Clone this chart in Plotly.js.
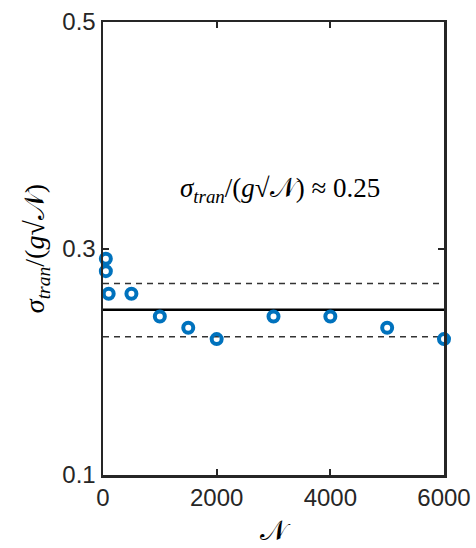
<!DOCTYPE html>
<html>
<head>
<meta charset="utf-8">
<script src="https://cdn.plot.ly/plotly-3.0.1.min.js"></script>
<style>html,body{margin:0;padding:0;background:#fff;}#chart{width:476px;height:548px;}</style>
</head>
<body>
<div id="chart"></div>
<script>
const nValues = [50, 50, 100, 500, 1000, 1500, 2000, 3000, 4000, 5000, 6000];
const sigmaRatio = [0.291, 0.280, 0.260, 0.260, 0.240, 0.230, 0.220, 0.240, 0.240, 0.230, 0.220];
const meanLevel = 0.246;
const upperLevel = 0.269;
const lowerLevel = 0.222;
const xTicks = [0, 2000, 4000, 6000];
const yTicks = [0.1, 0.3, 0.5];
const xRange = [0, 6000];
const yRange = [0.1, 0.5];

const axisColor = '#262626';
const tickFont = {family: 'Liberation Sans, Arial, sans-serif', size: 24, color: axisColor};
const mathFamily = 'Liberation Serif, Times New Roman, serif';

const traces = [
  {x: xRange, y: [upperLevel, upperLevel], mode: 'lines', line: {color: '#333', width: 1.5, dash: '6px,5px'}, hoverinfo: 'skip', showlegend: false},
  {x: xRange, y: [lowerLevel, lowerLevel], mode: 'lines', line: {color: '#333', width: 1.5, dash: '6px,5px'}, hoverinfo: 'skip', showlegend: false},
  {x: xRange, y: [meanLevel, meanLevel], mode: 'lines', line: {color: '#000', width: 2.5}, hoverinfo: 'skip', showlegend: false},
  {x: nValues, y: sigmaRatio, mode: 'markers', cliponaxis: false,
   marker: {symbol: 'circle-open', size: 10, color: '#0072BD', line: {color: '#0072BD', width: 4}}, showlegend: false}
];

const layout = {
  width: 476, height: 548,
  margin: {l: 103, r: 32, t: 22, b: 73},
  paper_bgcolor: '#fff', plot_bgcolor: '#fff',
  xaxis: {
    range: xRange, tickvals: xTicks, ticktext: xTicks.map(String),
    showgrid: false, zeroline: false,
    showline: true, linecolor: axisColor, linewidth: 2.5, mirror: 'ticks',
    ticks: 'inside', ticklen: 6, tickwidth: 2, tickcolor: axisColor,
    tickfont: tickFont,
    title: {text: '𝒩', font: {family: mathFamily, size: 28, color: '#000'}, standoff: 10}
  },
  yaxis: {
    range: yRange, tickvals: yTicks, ticktext: yTicks.map(v => v.toFixed(1)),
    showgrid: false, zeroline: false,
    showline: true, linecolor: axisColor, linewidth: 2.5, mirror: 'ticks',
    ticks: 'inside', ticklen: 6, tickwidth: 2, tickcolor: axisColor,
    tickfont: tickFont,
    title: {text: '<i>σ<sub>tran</sub></i>/(<i>g</i>√𝒩)', font: {family: mathFamily, size: 28, color: '#000'}, standoff: 10}
  },
  annotations: [{
    xref: 'paper', yref: 'paper', x: 0.52, y: 0.63, xanchor: 'center', yanchor: 'middle',
    showarrow: false,
    text: '<i>σ<sub>tran</sub></i>/(<i>g</i>√𝒩) ≈ 0.25',
    font: {family: mathFamily, size: 27, color: '#000'}
  }]
};

Plotly.newPlot('chart', traces, layout, {displayModeBar: false, staticPlot: true});
</script>
</body>
</html>
